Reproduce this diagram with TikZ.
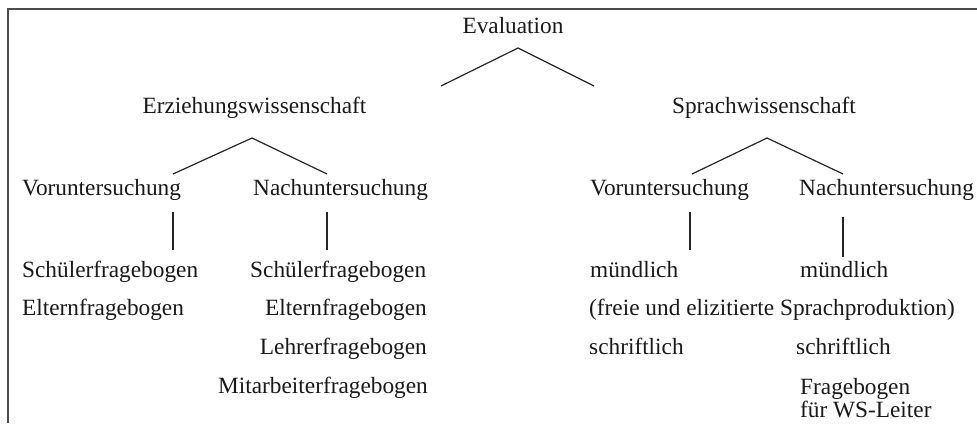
\documentclass[tikz,border=0pt]{standalone}
\usepackage{fontspec}
\setmainfont{Liberation Serif}
\begin{document}
\begin{tikzpicture}[x=1pt,y=-1pt,
  lbl/.style={inner sep=0pt,font=\fontsize{23.3}{24}\selectfont,text=black!90},
  conn/.style={draw=black!85,line width=1.2pt},
  frame/.style={draw=black!70,line width=1.2pt}]
\useasboundingbox (0,0) rectangle (977,423);
% frame
\coordinate (fbl) at (8,423);
\coordinate (ftl) at (8,9);
\coordinate (ftr) at (977,9);
\draw[frame] (fbl) -- (ftl) -- (ftr);

% level 0
\node[lbl,anchor=base] (eval) at (513,33) {Evaluation};
% level 1
\node[lbl,anchor=base] (erz) at (254.5,113) {Erziehungswissenschaft};
\node[lbl,anchor=base] (spr) at (764,113) {Sprachwissenschaft};
% level 2
\node[lbl,anchor=base west] (evor) at (22,195) {Voruntersuchung};
\node[lbl,anchor=base west] (enach) at (253,195) {Nachuntersuchung};
\node[lbl,anchor=base west] (svor) at (590,195) {Voruntersuchung};
\node[lbl,anchor=base west] (snach) at (799,195) {Nachuntersuchung};
% level 3 left
\node[lbl,anchor=base west] (evs) at (22,277) {Schülerfragebogen};
\node[lbl,anchor=base west] (eve) at (22,315) {Elternfragebogen};
\node[lbl,anchor=base west] (ens) at (250,277) {Schülerfragebogen};
\node[lbl,anchor=base east] (ene) at (427,315) {Elternfragebogen};
\node[lbl,anchor=base east] (enl) at (427,354) {Lehrerfragebogen};
\node[lbl,anchor=base east] (enm) at (428,393) {Mitarbeiterfragebogen};
% level 3 right
\node[lbl,anchor=base west] (svm) at (590,277) {mündlich};
\node[lbl,anchor=base west] (snm) at (800,277) {mündlich};
\node[lbl,anchor=base west] (sfrei) at (589,315) {(freie und elizitierte Sprachproduktion)};
\node[lbl,anchor=base west] (svs) at (589,354) {schriftlich};
\node[lbl,anchor=base west] (sns) at (796,354) {schriftlich};
\node[lbl,anchor=base west] (snf) at (800,394) {Fragebogen};
\node[lbl,anchor=base west] (snw) at (800,417) {für WS-Leiter};

% connector points
\coordinate (a0) at (518,48);
\coordinate (a0l) at (441,86);
\coordinate (a0r) at (594,86);
\coordinate (a1) at (252,138);
\coordinate (a1l) at (173,174);
\coordinate (a1r) at (327,174);
\coordinate (a2) at (767,138);
\coordinate (a2l) at (692,174);
\coordinate (a2r) at (843,174);
\coordinate (v1t) at (173,212);
\coordinate (v1b) at (173,250);
\coordinate (v2t) at (327,212);
\coordinate (v2b) at (327,250);
\coordinate (v3t) at (690,212);
\coordinate (v3b) at (690,250);
\coordinate (v4t) at (843,217);
\coordinate (v4b) at (843,257);

\draw[conn] (a0l) -- (a0) -- (a0r);
\draw[conn] (a1l) -- (a1) -- (a1r);
\draw[conn] (a2l) -- (a2) -- (a2r);
\draw[conn] (v1t) -- (v1b);
\draw[conn] (v2t) -- (v2b);
\draw[conn] (v3t) -- (v3b);
\draw[conn] (v4t) -- (v4b);
\end{tikzpicture}
\end{document}
